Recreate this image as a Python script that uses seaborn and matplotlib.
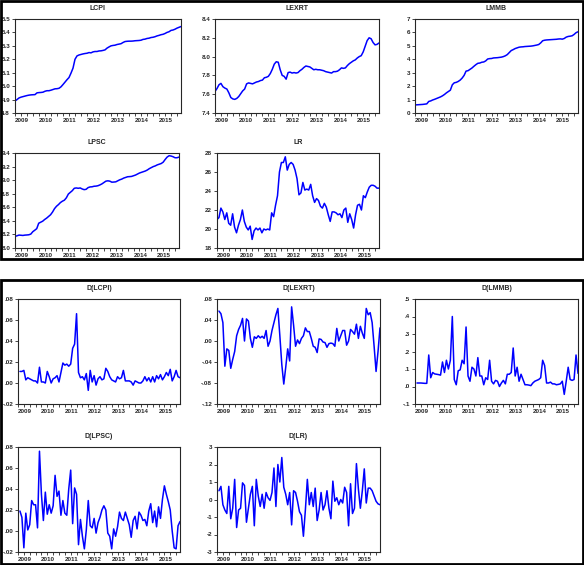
import numpy as np
import pandas as pd
import matplotlib
matplotlib.use('Agg')
import matplotlib.pyplot as plt
import seaborn as sns
from matplotlib.patches import Rectangle
from matplotlib.ticker import FuncFormatter

# monthly data, 2009M01 - 2015M12 (levels), differences start 2009M02
year_labels = ['2009', '2010', '2011', '2012', '2013', '2014', '2015']

lcpi = [4.890, 4.900, 4.912, 4.918, 4.922, 4.926, 4.930, 4.933, 4.935, 4.936, 4.937, 4.950,
        4.952, 4.953, 4.955, 4.962, 4.966, 4.966, 4.970, 4.975, 4.980, 4.981, 4.984, 4.995,
        5.012, 5.030, 5.048, 5.064, 5.097, 5.134, 5.200, 5.225, 5.232, 5.236, 5.240, 5.243,
        5.245, 5.250, 5.248, 5.255, 5.258, 5.258, 5.262, 5.263, 5.266, 5.270, 5.283, 5.292,
        5.300, 5.303, 5.305, 5.310, 5.313, 5.316, 5.325, 5.332, 5.334, 5.335, 5.335, 5.336,
        5.338, 5.339, 5.340, 5.342, 5.348, 5.350, 5.355, 5.357, 5.362, 5.364, 5.368, 5.374,
        5.378, 5.383, 5.386, 5.392, 5.400, 5.405, 5.415, 5.418, 5.424, 5.432, 5.438, 5.444]

lexrt = [7.630, 7.660, 7.700, 7.715, 7.680, 7.665, 7.655, 7.615, 7.565, 7.550, 7.545, 7.555,
         7.575, 7.605, 7.635, 7.655, 7.710, 7.720, 7.715, 7.710, 7.720, 7.730, 7.735, 7.745,
         7.750, 7.775, 7.780, 7.790, 7.820, 7.865, 7.920, 7.945, 7.940, 7.860, 7.800, 7.790,
         7.760, 7.830, 7.835, 7.825, 7.830, 7.825, 7.830, 7.850, 7.865, 7.885, 7.900, 7.895,
         7.890, 7.875, 7.860, 7.865, 7.860, 7.860, 7.855, 7.850, 7.840, 7.835, 7.830, 7.825,
         7.840, 7.840, 7.845, 7.860, 7.880, 7.875, 7.880, 7.905, 7.925, 7.940, 7.955, 7.965,
         7.985, 8.000, 8.010, 8.050, 8.110, 8.170, 8.200, 8.190, 8.150, 8.125, 8.130, 8.145]

lmmb = [0.60, 0.61, 0.62, 0.63, 0.64, 0.66, 0.68, 0.86, 0.90, 0.97, 1.02, 1.08,
        1.14, 1.20, 1.28, 1.38, 1.50, 1.60, 1.70, 2.10, 2.25, 2.28, 2.35, 2.45,
        2.60, 2.80, 3.12, 3.15, 3.25, 3.35, 3.48, 3.60, 3.70, 3.72, 3.78, 3.80,
        3.88, 4.02, 4.05, 4.06, 4.10, 4.11, 4.12, 4.14, 4.16, 4.20, 4.26, 4.35,
        4.50, 4.65, 4.72, 4.80, 4.85, 4.90, 4.92, 4.93, 4.95, 4.96, 4.97, 4.98,
        5.00, 5.03, 5.06, 5.10, 5.22, 5.38, 5.42, 5.44, 5.45, 5.46, 5.47, 5.48,
        5.49, 5.51, 5.52, 5.50, 5.55, 5.65, 5.70, 5.72, 5.75, 5.85, 5.98, 6.05]

lpsc = [8.170, 8.180, 8.190, 8.188, 8.185, 8.190, 8.192, 8.195, 8.205, 8.240, 8.262, 8.285,
        8.365, 8.380, 8.395, 8.420, 8.440, 8.465, 8.490, 8.530, 8.580, 8.615, 8.640, 8.670,
        8.690, 8.705, 8.740, 8.795, 8.820, 8.845, 8.880, 8.885, 8.880, 8.885, 8.870, 8.860,
        8.865, 8.890, 8.900, 8.902, 8.910, 8.912, 8.918, 8.930, 8.945, 8.965, 8.985, 8.990,
        8.985, 8.970, 8.972, 8.975, 8.990, 9.005, 9.015, 9.030, 9.040, 9.050, 9.052, 9.055,
        9.065, 9.075, 9.090, 9.105, 9.115, 9.125, 9.135, 9.150, 9.170, 9.185, 9.200, 9.210,
        9.225, 9.235, 9.245, 9.265, 9.305, 9.340, 9.360, 9.355, 9.345, 9.330, 9.330, 9.340]

lr = [21.0, 21.2, 22.2, 21.8, 21.0, 21.7, 20.6, 20.4, 21.6, 20.2, 19.6, 20.4,
      21.0, 22.0, 20.8, 20.2, 19.9, 20.3, 18.9, 19.8, 20.1, 19.9, 20.1, 19.6,
      20.0, 19.9, 20.0, 19.9, 21.7, 21.3, 22.5, 23.5, 26.0, 27.0, 27.0, 27.6,
      26.2, 26.8, 27.0, 26.8, 26.2, 25.3, 23.6, 23.8, 24.9, 24.1, 24.2, 24.1,
      24.7, 23.5, 22.8, 23.2, 23.0, 22.4, 22.2, 22.7, 22.3, 21.5, 20.8, 21.8,
      21.8, 21.7, 21.5, 21.6, 21.2, 22.0, 22.2, 20.7, 21.6, 21.0, 20.1, 21.5,
      22.5, 22.6, 22.0, 23.5, 23.3, 23.9, 24.4, 24.6, 24.6, 24.5, 24.3, 24.3]

d_lcpi = [0.011, 0.011, 0.012, 0.003, 0.005, 0.004, 0.003, 0.002, 0.002, 0.000, 0.015,
          0.001, 0.001, 0.000, 0.011, 0.006, 0.000, 0.004, 0.005, 0.007, 0.001, 0.010,
          0.019, 0.017, 0.018, 0.016, 0.018, 0.033, 0.037, 0.066, 0.010, 0.005, 0.006,
          0.003, 0.009, -0.007, 0.012, 0.001, 0.007, -0.002, 0.004, 0.006, 0.003, 0.004,
          0.014, 0.011, 0.006, 0.003, 0.002, 0.001, 0.006, 0.004, 0.005, 0.012, 0.002,
          0.002, 0.002, 0.001, -0.002, 0.002, 0.001, 0.000, 0.000, 0.002, 0.006, 0.002,
          0.005, 0.001, 0.006, 0.001, 0.007, 0.004, 0.008, 0.003, 0.006, 0.010, 0.007,
          0.013, 0.002, 0.006, 0.012, 0.006, 0.005]

d_lexrt = [0.057, 0.052, 0.035, -0.048, -0.015, -0.018, -0.052, -0.035, -0.020, 0.010, 0.022,
           0.030, 0.043, 0.000, 0.042, 0.038, 0.005, -0.012, 0.008, 0.005, 0.010, 0.006,
           0.009, 0.005, 0.020, -0.010, 0.000, 0.020, 0.035, 0.050, 0.062, 0.010, -0.045,
           -0.082, -0.050, -0.015, -0.038, 0.065, 0.030, -0.010, 0.002, -0.005, 0.005, 0.010,
           0.025, 0.018, 0.018, 0.005, -0.010, -0.012, -0.022, 0.004, 0.003, -0.002, -0.003,
           -0.012, -0.005, -0.004, -0.005, -0.010, 0.024, 0.000, 0.010, 0.020, 0.020, -0.008,
           0.000, 0.022, 0.018, 0.013, 0.032, 0.005, 0.028, 0.015, 0.005, 0.062, 0.050,
           0.054, 0.035, -0.010, -0.058, -0.020, 0.025]

d_lmmb = [0.020, 0.020, 0.020, 0.019, 0.018, 0.018, 0.180, 0.050, 0.080, 0.072, 0.070,
          0.068, 0.065, 0.140, 0.080, 0.150, 0.100, 0.150, 0.400, 0.040, 0.010, 0.090,
          0.095, 0.150, 0.130, 0.340, 0.060, 0.030, 0.110, 0.100, 0.060, 0.165, 0.060,
          0.060, 0.010, 0.050, 0.040, 0.150, 0.030, 0.015, 0.035, 0.030, 0.000, 0.020,
          0.035, 0.015, 0.070, 0.070, 0.080, 0.220, 0.060, 0.110, 0.030, 0.070, 0.040,
          0.010, 0.010, 0.008, 0.005, 0.020, 0.030, 0.035, 0.040, 0.050, 0.150, 0.120,
          0.020, 0.020, 0.025, 0.015, 0.015, 0.010, 0.012, 0.015, 0.030, -0.045, 0.030,
          0.110, 0.040, 0.035, 0.040, 0.180, 0.075]

d_lpsc = [0.019, 0.013, -0.016, 0.017, 0.001, 0.006, 0.029, 0.025, 0.025, 0.003, 0.076,
          0.035, 0.010, 0.037, 0.016, 0.025, 0.017, 0.024, 0.053, 0.033, 0.038, 0.015,
          0.029, 0.017, 0.015, 0.040, 0.058, 0.007, 0.041, 0.035, -0.013, 0.011, -0.005,
          -0.017, 0.001, 0.029, 0.005, 0.003, 0.012, -0.002, 0.008, 0.013, 0.020, 0.024,
          0.020, -0.002, -0.005, -0.017, 0.002, -0.005, 0.004, 0.018, 0.012, 0.010, 0.018,
          0.012, 0.006, -0.006, 0.010, 0.014, 0.002, 0.018, 0.015, 0.010, 0.011, 0.005,
          0.019, 0.026, 0.008, 0.019, 0.004, 0.023, 0.012, 0.030, 0.043, 0.035, 0.028,
          0.020, 0.000, -0.016, -0.017, 0.005, 0.009]

d_lr = [0.50, 0.75, -0.30, -0.60, -0.80, 0.75, -1.10, -0.50, 1.15, -1.60, -0.60,
        -0.50, 0.95, 0.80, -1.30, -0.50, 0.30, 0.75, -1.50, 1.15, 0.20, -0.40,
        0.30, -0.50, 0.40, 0.10, -0.05, 0.40, 1.80, -0.40, 2.00, 1.00, 2.40,
        0.70, 0.30, -0.30, 0.40, -1.45, 0.50, 0.40, -0.10, -0.70, -0.90, -2.10,
        -0.60, 1.15, -0.30, 0.40, -0.40, 0.65, -1.20, -0.60, 0.40, -0.60, -0.30,
        0.50, -0.50, -1.10, 1.05, -0.10, 0.10, -0.30, 0.00, -0.20, 0.70, 0.40,
        -1.50, 0.90, -0.80, -0.50, 2.05, 0.60, -0.50, 0.50, 1.75, -0.20, 0.65,
        0.65, 0.50, 0.20, -0.10, -0.25, -0.30]

W, H = 584, 565

sns.set_style('ticks')
plt.rcParams['font.family'] = ['Liberation Sans', 'DejaVu Sans']
plt.rcParams['font.weight'] = 'bold'

fig = plt.figure(figsize=(W / 100, H / 100), dpi=100)


def eviews_fmt(dec):
    # EViews style: no leading zero (".04", "-.04")
    def f(v, pos):
        s = f"{v:.{dec}f}"
        if s.startswith('0.'):
            s = s[1:]
        elif s.startswith('-0.'):
            s = '-' + s[2:]
        return s
    return FuncFormatter(f)


def panel(title, values, start, box, ylim, ystep, dec):
    l, r, t, b = box
    ax = fig.add_axes([l / W, 1 - b / H, (r - l) / W, (b - t) / H])
    df = pd.DataFrame({'m': np.arange(start, start + len(values)), 'v': values})
    sns.lineplot(data=df, x='m', y='v', ax=ax, color='#0000ff', lw=1.1)
    ax.set_xlim(0, 83)
    ax.set_ylim(*ylim)
    ax.set_yticks(np.arange(ylim[0], ylim[1] + ystep / 2, ystep))
    ax.yaxis.set_major_formatter(eviews_fmt(dec))
    ax.set_xticks([12 * k + 3.5 for k in range(len(year_labels))])
    ax.set_xticklabels(year_labels)
    ax.set_xticks(np.arange(0, 84, 3), minor=True)
    ax.tick_params(axis='x', which='major', length=0, pad=3.5, labelsize=4.5)
    ax.tick_params(axis='x', which='minor', length=2, width=0.6)
    ax.tick_params(axis='y', length=2, width=0.6, pad=1.5, labelsize=4.5)
    ax.set_xlabel('')
    ax.set_ylabel('')
    for sp in ax.spines.values():
        sp.set_visible(True)
        sp.set_linewidth(0.8)
    ax.set_title(title, fontsize=5, fontweight='bold', pad=6.5)
    return ax


# top block: levels
panel('LCPI', lcpi, 0, (15, 181, 19, 113), (4.8, 5.5), 0.1, 1)
panel('LEXRT', lexrt, 0, (215, 379, 19, 113), (7.4, 8.4), 0.2, 1)
panel('LMMB', lmmb, 0, (415, 578, 19, 113), (0, 7), 1, 0)
panel('LPSC', lpsc, 0, (15, 179, 153, 248), (8.0, 9.4), 0.2, 1)
panel('LR', lr, 0, (217, 379, 153, 248), (18, 28), 2, 0)

# bottom block: first differences
panel('D(LCPI)', d_lcpi, 1, (18, 180, 299, 404), (-0.02, 0.08), 0.02, 2)
panel('D(LEXRT)', d_lexrt, 1, (217, 380, 299, 404), (-0.12, 0.08), 0.04, 2)
panel('D(LMMB)', d_lmmb, 1, (415, 578, 299, 404), (-0.1, 0.5), 0.1, 1)
panel('D(LPSC)', d_lpsc, 1, (18, 180, 447, 552), (-0.02, 0.08), 0.02, 2)
panel('D(LR)', d_lr, 1, (217, 380, 447, 552), (-3, 3), 1, 0)

# frames around the two blocks
for (t, b) in [(1, 259), (280, 564)]:
    fig.patches.append(Rectangle((1 / W, 1 - b / H), (W - 2) / W, (b - t) / H,
                                 transform=fig.transFigure, fill=False,
                                 edgecolor='black', linewidth=2))

fig.savefig('out.png', dpi=100)
